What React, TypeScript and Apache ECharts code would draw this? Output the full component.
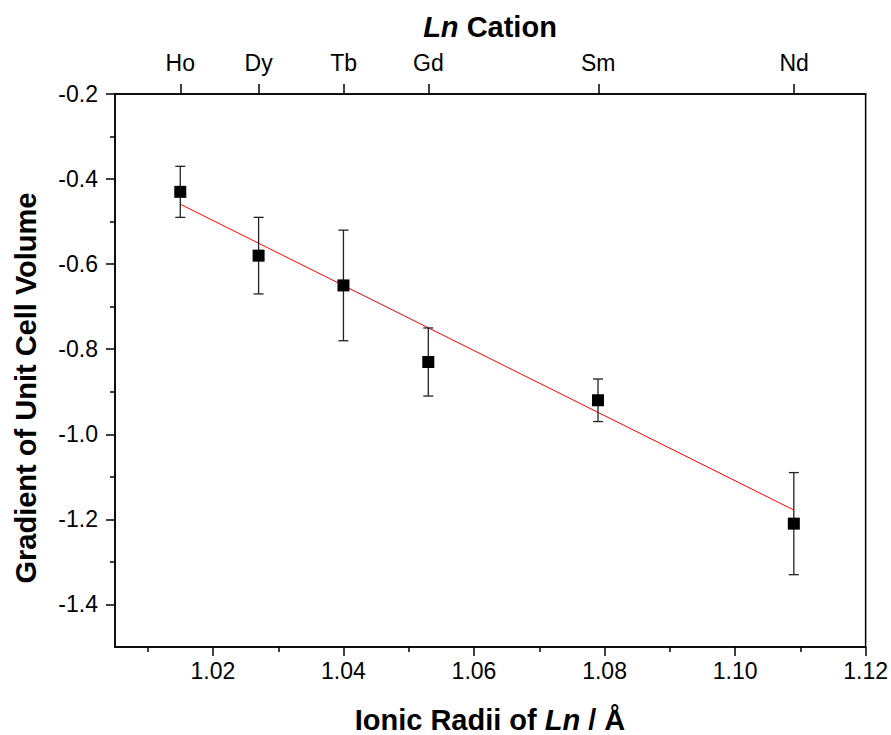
import React, { useEffect, useRef } from "react";
import * as echarts from "echarts";

const cations = ["Ho", "Dy", "Tb", "Gd", "Sm", "Nd"];
const ionicRadii = [1.015, 1.027, 1.04, 1.053, 1.079, 1.109];
const gradient = [-0.43, -0.58, -0.65, -0.83, -0.92, -1.21];
const gradientErr = [0.06, 0.09, 0.13, 0.08, 0.05, 0.12];
const fitX = [1.015, 1.109];
const fitY = [-0.459, -1.178];

const xMajor = [1.02, 1.04, 1.06, 1.08, 1.1, 1.12];
const xMinor = [1.01, 1.03, 1.05, 1.07, 1.09, 1.11];
const yMajor = [-1.4, -1.2, -1.0, -0.8, -0.6, -0.4, -0.2];
const yMinor = [-1.3, -1.1, -0.9, -0.7, -0.5, -0.3];

const X_MIN = 1.005;
const X_MAX = 1.12;
const Y_MIN = -1.5;
const Y_MAX = -0.2;

const FONT = "'Liberation Sans', Arial, Helvetica, sans-serif";
const TICK_FS = 23;
const TITLE_FS = 29;

export default function App() {
  const ref = useRef<HTMLDivElement>(null);

  useEffect(() => {
    document.body.style.margin = "0";
    if (!ref.current) return;
    const chart = echarts.init(ref.current, null, { renderer: "svg" });

    const gridPos = { left: 115, right: 25, top: 94, bottom: 88 };
    const axisLineStyle = { color: "#000", width: 1.5 };

    const errData = ionicRadii.map((x, i) => [
      x,
      gradient[i] - gradientErr[i],
      gradient[i] + gradientErr[i],
    ]);

    const richTitle = {
      i: { fontFamily: FONT, fontSize: TITLE_FS, fontWeight: "bold", fontStyle: "italic", fill: "#000" },
      b: { fontFamily: FONT, fontSize: TITLE_FS, fontWeight: "bold", fill: "#000" },
    };

    const option: any = {
      animation: false,
      backgroundColor: "#fff",
      textStyle: { fontFamily: FONT },
      grid: [
        {
          ...gridPos,
          show: true,
          borderColor: "#000",
          borderWidth: 1.5,
          backgroundColor: "transparent",
        },
        { ...gridPos, show: false },
      ],
      xAxis: [
        {
          type: "value",
          gridIndex: 0,
          position: "bottom",
          min: X_MIN,
          max: X_MAX,
          axisLine: { show: true, onZero: false, lineStyle: axisLineStyle },
          axisTick: {
            show: true,
            inside: false,
            length: 9,
            customValues: xMajor,
            lineStyle: { color: "#000", width: 1.5 },
          },
          axisLabel: {
            show: true,
            customValues: xMajor,
            formatter: (v: number) => v.toFixed(2),
            fontSize: TICK_FS,
            color: "#000",
            fontFamily: FONT,
            margin: 12,
          },
          splitLine: { show: false },
        },
        {
          type: "value",
          gridIndex: 1,
          position: "bottom",
          min: X_MIN,
          max: X_MAX,
          axisLine: { show: false, onZero: false },
          axisTick: {
            show: true,
            inside: false,
            length: 5,
            customValues: xMinor,
            lineStyle: { color: "#000", width: 1.5 },
          },
          axisLabel: { show: false },
          splitLine: { show: false },
        },
        {
          type: "value",
          gridIndex: 1,
          position: "top",
          min: X_MIN,
          max: X_MAX,
          axisLine: { show: true, onZero: false, lineStyle: axisLineStyle },
          axisTick: {
            show: true,
            inside: false,
            length: 10,
            customValues: ionicRadii,
            lineStyle: { color: "#000", width: 1.5 },
          },
          axisLabel: {
            show: true,
            customValues: ionicRadii,
            formatter: (v: number) => {
              let best = 0;
              ionicRadii.forEach((r, i) => {
                if (Math.abs(r - v) < Math.abs(ionicRadii[best] - v)) best = i;
              });
              return cations[best];
            },
            fontSize: TICK_FS,
            color: "#000",
            fontFamily: FONT,
            margin: 20,
          },
          splitLine: { show: false },
        },
      ],
      yAxis: [
        {
          type: "value",
          gridIndex: 0,
          position: "left",
          min: Y_MIN,
          max: Y_MAX,
          axisLine: { show: true, onZero: false, lineStyle: axisLineStyle },
          axisTick: {
            show: true,
            inside: false,
            length: 9,
            customValues: yMajor,
            lineStyle: { color: "#000", width: 1.5 },
          },
          axisLabel: {
            show: true,
            customValues: yMajor,
            formatter: (v: number) => v.toFixed(1),
            fontSize: TICK_FS,
            color: "#000",
            fontFamily: FONT,
            margin: 17,
          },
          splitLine: { show: false },
        },
        {
          type: "value",
          gridIndex: 1,
          position: "left",
          min: Y_MIN,
          max: Y_MAX,
          axisLine: { show: false, onZero: false },
          axisTick: {
            show: true,
            inside: false,
            length: 5,
            customValues: yMinor,
            lineStyle: { color: "#000", width: 1.5 },
          },
          axisLabel: { show: false },
          splitLine: { show: false },
        },
      ],
      series: [
        {
          type: "line",
          name: "fit",
          xAxisIndex: 0,
          yAxisIndex: 0,
          data: fitX.map((x, i) => [x, fitY[i]]),
          showSymbol: false,
          symbol: "none",
          lineStyle: { color: "#ff0000", width: 1 },
          z: 2,
        },
        {
          type: "custom",
          name: "error",
          xAxisIndex: 0,
          yAxisIndex: 0,
          data: errData,
          encode: { x: 0, y: [1, 2] },
          renderItem: (params: any, api: any) => {
            const x = api.value(0);
            const lo = api.coord([x, api.value(1)]);
            const hi = api.coord([x, api.value(2)]);
            const cap = 5;
            const style = { stroke: "#222", lineWidth: 1.3 };
            return {
              type: "group",
              children: [
                { type: "line", shape: { x1: lo[0], y1: lo[1], x2: hi[0], y2: hi[1] }, style },
                { type: "line", shape: { x1: lo[0] - cap, y1: lo[1], x2: lo[0] + cap, y2: lo[1] }, style },
                { type: "line", shape: { x1: hi[0] - cap, y1: hi[1], x2: hi[0] + cap, y2: hi[1] }, style },
              ],
            };
          },
          z: 3,
        },
        {
          type: "scatter",
          name: "data",
          xAxisIndex: 0,
          yAxisIndex: 0,
          data: ionicRadii.map((x, i) => [x, gradient[i]]),
          symbol: "rect",
          symbolSize: 12,
          itemStyle: { color: "#000", opacity: 1 },
          z: 4,
        },
      ],
      graphic: [
        {
          type: "text",
          x: 490,
          y: 27,
          style: {
            text: "{i|Ln}{b| Cation}",
            textAlign: "center",
            textVerticalAlign: "middle",
            rich: richTitle,
          },
        },
        {
          type: "text",
          x: 490,
          y: 720,
          style: {
            text: "{b|Ionic Radii of }{i|Ln}{b| / Å}",
            textAlign: "center",
            textVerticalAlign: "middle",
            rich: richTitle,
          },
        },
        {
          type: "text",
          x: 26,
          y: 388,
          rotation: Math.PI / 2,
          style: {
            text: "Gradient of Unit Cell Volume",
            textAlign: "center",
            textVerticalAlign: "middle",
            font: `bold ${TITLE_FS}px ${FONT}`,
            fill: "#000",
          },
        },
      ],
    };

    chart.setOption(option);
    return () => {
      chart.dispose();
    };
  }, []);

  return <div ref={ref} style={{ width: 891, height: 735 }} />;
}
